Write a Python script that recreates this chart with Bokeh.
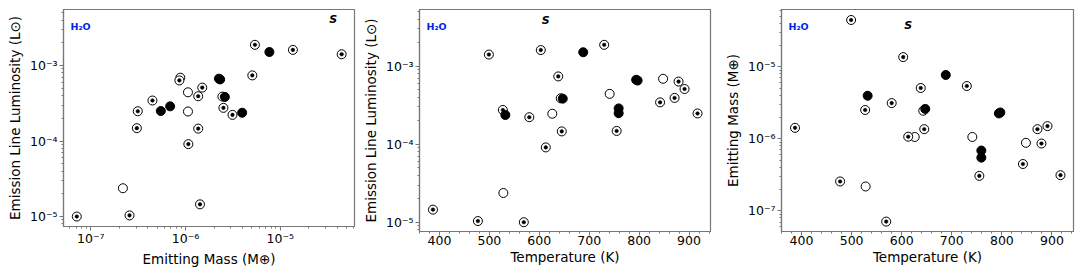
import numpy as np
from bokeh.plotting import figure
from bokeh.layouts import row
from bokeh.models import Range1d, Label, FixedTicker, CustomJSTickFormatter
from bokeh.embed import file_html
from bokeh.resources import INLINE

# ---- data (one entry per object) ----
# kind: "b" = open circle with central dot, "o" = open circle, "f" = filled circle
kind = ["b", "o", "b", "b", "b", "b", "f", "f", "o", "b", "o", "o", "b", "b", "b",
        "b", "b", "f", "f", "b", "f", "b", "b", "f", "b", "b", "f", "b", "b"]
mass = [7.1e-8, 2.18e-7, 2.56e-7, 3.06e-7, 3.13e-7, 4.47e-7, 5.48e-7, 6.87e-7, 8.8e-7, 8.6e-7,
        1.06e-6, 1.06e-6, 1.07e-6, 1.36e-6, 1.36e-6, 1.42e-6, 1.5e-6, 2.25e-6, 2.32e-6, 2.45e-6,
        2.6e-6, 2.51e-6, 3.13e-6, 3.96e-6, 5.07e-6, 5.4e-6, 7.68e-6, 1.36e-5, 4.45e-5]
lum = [1.0e-5, 2.37e-5, 1.035e-5, 1.48e-4, 2.48e-4, 3.44e-4, 2.5e-4, 2.88e-4, 6.9e-4, 6.35e-4,
       4.42e-4, 2.46e-4, 9.1e-5, 3.92e-4, 1.46e-4, 1.45e-5, 5.1e-4, 6.7e-4, 6.55e-4, 3.88e-4,
       3.84e-4, 2.75e-4, 2.22e-4, 2.37e-4, 7.4e-4, 1.88e-3, 1.51e-3, 1.61e-3, 1.41e-3]
temp = [569, 528, 477, 755, 917, 842, 759, 759, 848, 879,
        741, 626, 613, 871, 645, 387, 891, 794, 797, 643,
        647, 527, 580, 532, 638, 730, 688, 603, 499]

# tick values for the linear temperature axes
temp_ticks = [400, 500, 600, 700, 800, 900]
temp_minor = [t for t in range(360, 960, 20)]

# "S" annotation positions (data coordinates) per panel
s_mass_lum = (3.62e-5, 4.06e-3)
s_temp_lum = (613, 3.86e-3)
s_temp_mass = (613, 3.78e-5)

FONT = "DejaVu Sans"
GREY = "#777777"

pow10_fmt = CustomJSTickFormatter(code="""
const sup = {"-": "\u207b", "0": "\u2070", "1": "\u00b9", "2": "\u00b2", "3": "\u00b3",
             "4": "\u2074", "5": "\u2075", "6": "\u2076", "7": "\u2077", "8": "\u2078", "9": "\u2079"};
const e = Math.round(Math.log10(tick));
return "10" + String(e).split("").map(c => sup[c]).join("");
""")


def style(p, xlabel, ylabel, xlab_standoff=1):
    p.outline_line_color = GREY
    p.outline_line_width = 1.2
    p.grid.visible = False
    for ax in (p.xaxis[0], p.yaxis[0]):
        ax.axis_line_color = GREY
        ax.axis_line_width = 1.2
        ax.major_tick_line_color = GREY
        ax.minor_tick_line_color = GREY
        ax.major_tick_out = 4
        ax.major_tick_in = 0
        ax.minor_tick_out = 2
        ax.minor_tick_in = 0
        ax.major_label_text_font = FONT
        ax.major_label_text_font_size = "12.5px"
        ax.major_label_text_color = "black"
        ax.axis_label_text_font = FONT
        ax.axis_label_text_font_size = "13.5px"
        ax.axis_label_text_font_style = "normal"
        ax.axis_label_text_color = "black"
    p.xaxis.major_label_standoff = 0
    p.xaxis.axis_label_standoff = xlab_standoff
    p.yaxis.major_label_standoff = 2
    p.yaxis.axis_label_standoff = 4
    p.xaxis.axis_label = xlabel
    p.yaxis.axis_label = ylabel


def draw_points(p, xs, ys):
    ring_x = [x for x, k in zip(xs, kind) if k in ("b", "o")]
    ring_y = [y for y, k in zip(ys, kind) if k in ("b", "o")]
    dot_x = [x for x, k in zip(xs, kind) if k == "b"]
    dot_y = [y for y, k in zip(ys, kind) if k == "b"]
    f_x = [x for x, k in zip(xs, kind) if k == "f"]
    f_y = [y for y, k in zip(ys, kind) if k == "f"]
    p.scatter(ring_x, ring_y, marker="circle", size=9, fill_color="white",
              line_color="black", line_width=1)
    p.scatter(dot_x, dot_y, marker="circle", size=3.6, fill_color="black",
              line_color="black", line_width=0.5)
    p.scatter(f_x, f_y, marker="circle", size=9, fill_color="black",
              line_color="black", line_width=1)


def add_labels(p, spos, fh):
    p.add_layout(Label(x=7, y=fh - 17, x_units="screen", y_units="screen",
                       text="H₂O", text_font=FONT, text_font_size="9.5px",
                       text_font_style="bold", text_color="#0022ee",
                       text_baseline="middle", text_align="left"))
    p.add_layout(Label(x=spos[0], y=spos[1], text="S", text_font=FONT,
                       text_font_size="11px", text_font_style="bold italic",
                       text_color="black", text_baseline="middle", text_align="center"))


common = dict(output_backend="svg", toolbar_location=None, min_border_top=9)

p1 = figure(frame_width=291, frame_height=217, x_axis_type="log", y_axis_type="log",
            x_range=Range1d(10 ** -7.289, 10 ** -4.216), y_range=Range1d(10 ** -5.132, 10 ** -2.258),
            min_border_left=63, min_border_right=5, min_border_bottom=50, **common)
style(p1, "Emitting Mass (M⊕)", "Emission Line Luminosity (L⊙)", xlab_standoff=2)
p1.xaxis.formatter = pow10_fmt
p1.yaxis.formatter = pow10_fmt
draw_points(p1, mass, lum)
add_labels(p1, s_mass_lum, 217)

p2 = figure(frame_width=291, frame_height=222, y_axis_type="log",
            x_range=Range1d(360, 943), y_range=Range1d(10 ** -5.119, 10 ** -2.273),
            min_border_left=57, min_border_right=11, min_border_bottom=45, **common)
style(p2, "Temperature (K)", "Emission Line Luminosity (L⊙)")
p2.xaxis.ticker = FixedTicker(ticks=temp_ticks, minor_ticks=temp_minor)
p2.yaxis.formatter = pow10_fmt
draw_points(p2, temp, lum)
add_labels(p2, s_temp_lum, 222)

p3 = figure(frame_width=292, frame_height=222, y_axis_type="log",
            x_range=Range1d(360, 943), y_range=Range1d(10 ** -7.286, 10 ** -4.206),
            min_border_left=60, min_border_right=10, min_border_bottom=45, **common)
style(p3, "Temperature (K)", "Emitting Mass (M⊕)")
p3.xaxis.ticker = FixedTicker(ticks=temp_ticks, minor_ticks=temp_minor)
p3.yaxis.formatter = pow10_fmt
draw_points(p3, temp, mass)
add_labels(p3, s_temp_mass, 222)

layout = row(p1, p2, p3, spacing=0)
open("out.html", "w").write(file_html(layout, INLINE))
